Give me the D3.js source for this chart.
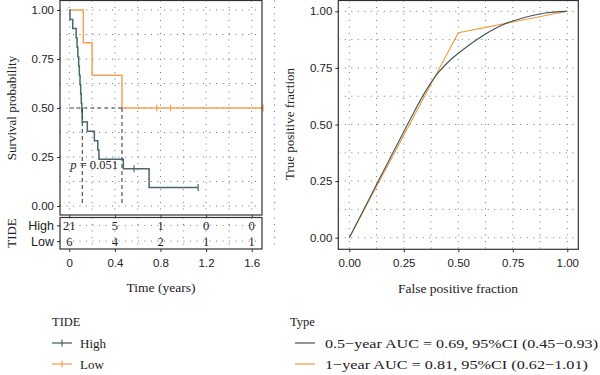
<!DOCTYPE html>
<html>
<head>
<meta charset="utf-8">
<script src="https://cdn.jsdelivr.net/npm/d3@7"></script>
<style>
  body { margin: 0; background: #fff; }
  svg { font-family: "Liberation Serif", "DejaVu Serif", serif; }
  .tick text { fill: #222; font-size: 11.5px; }
  .tick line { stroke: #333; }
</style>
</head>
<body>
<div id="chart"></div>
<script>
// ---- data ----
var kmTicks = [0, 0.4, 0.8, 1.2, 1.6];
var probTicks = [0, 0.25, 0.5, 0.75, 1];

// Kaplan-Meier steps: [time, survival after step]
var highSteps = [[0, 1], [0.006, 0.952], [0.03, 0.905], [0.06, 0.857], [0.068, 0.810], [0.075, 0.762],
  [0.082, 0.714], [0.088, 0.667], [0.094, 0.619], [0.1, 0.571], [0.105, 0.524], [0.11, 0.476],
  [0.114, 0.429], [0.158, 0.381], [0.22, 0.333], [0.25, 0.286], [0.26, 0.238], [0.474, 0.190],
  [0.70, 0.095], [1.13, 0.095]];
var highCensor = [0.568, 1.13];
var lowSteps = [[0, 1], [0.123, 0.833], [0.2, 0.667], [0.462, 0.5], [1.70, 0.5]];
var lowCensor = [0.767, 0.889, 1.70];
var medians = [0.114, 0.462];
var pText = "0.051";

var groups = ["High", "Low"];
var riskHigh = [21, 5, 1, 0, 0];
var riskLow = [6, 4, 2, 1, 1];

// ROC curves: [fpr, tpr]
var roc05 = [[0, 0], [0.05, 0.094], [0.1, 0.188], [0.15, 0.282], [0.2, 0.376], [0.25, 0.468], [0.3, 0.562],
  [0.35, 0.65], [0.4, 0.722], [0.45, 0.775], [0.5, 0.815], [0.55, 0.852], [0.6, 0.885], [0.65, 0.915],
  [0.7, 0.94], [0.75, 0.958], [0.8, 0.972], [0.85, 0.984], [0.9, 0.993], [0.95, 0.998], [1, 1]];
var roc1 = [[0, 0], [0.5, 0.905], [1, 1]];
var rocLabels = ["0.5\u2212year AUC = 0.69, 95%CI (0.45\u22120.93)", "1\u2212year AUC = 0.81, 95%CI (0.62\u22121.01)"];

var colHigh = "#4a6670", colLow = "#f4a254";
var colRoc05 = "#3e5660", colRoc1 = "#f29a3a";

var svg = d3.select("#chart").append("svg").attr("width", 600).attr("height", 375);

function grid(g, xs, ys, x0, x1, y0, y1) {
  g.selectAll(null).data(xs).enter().append("line")
    .attr("x1", d => d).attr("x2", d => d).attr("y1", y0).attr("y2", y1)
    .attr("stroke", "#777").attr("stroke-width", 1).attr("stroke-dasharray", "1,5.5");
  g.selectAll(null).data(ys).enter().append("line")
    .attr("y1", d => d).attr("y2", d => d).attr("x1", x0).attr("x2", x1)
    .attr("stroke", "#777").attr("stroke-width", 1).attr("stroke-dasharray", "1,5.5");
}

function styleAxis(g) {
  g.select(".domain").remove();
  g.selectAll(".tick line").attr("stroke", "#333");
}

// ---- KM panel ----
var x = d3.scaleLinear().domain([0, 1.6]).range([69.3, 251.7]);
var y = d3.scaleLinear().domain([0, 1]).range([206, 10]);
var box = {x0: 60, x1: 262, y0: 0.5, y1: 215};
var tbl = {y0: 217.5, y1: 249};
var yr = d3.scalePoint().domain(groups).range([tbl.y0, tbl.y1]).padding(0.5);

var km = svg.append("g");
grid(km, d3.range(0, 1.81, 0.2).map(x), d3.range(0, 1.01, 0.125).map(y), box.x0, box.x1, box.y0, box.y1);
grid(km, d3.range(0, 1.81, 0.2).map(x), [], box.x0, box.x1, tbl.y0, tbl.y1);
km.selectAll(null).data(groups).enter().append("line")
  .attr("x1", box.x0).attr("x2", box.x1).attr("y1", d => yr(d)).attr("y2", d => yr(d))
  .attr("stroke", "#777").attr("stroke-width", 1).attr("stroke-dasharray", "1,5.5");

var stepLine = d3.line().x(d => x(d[0])).y(d => y(d[1])).curve(d3.curveStepAfter);
km.append("path").datum(lowSteps).attr("d", stepLine)
  .attr("fill", "none").attr("stroke", colLow).attr("stroke-width", 1.5);
km.append("path").datum(highSteps).attr("d", stepLine)
  .attr("fill", "none").attr("stroke", colHigh).attr("stroke-width", 1.5);

function censor(times, steps, col) {
  km.selectAll(null).data(times).enter().append("line")
    .attr("x1", d => x(d)).attr("x2", d => x(d))
    .attr("y1", d => y(steps.filter(s => s[0] <= d).pop()[1]) - 3.5)
    .attr("y2", d => y(steps.filter(s => s[0] <= d).pop()[1]) + 3.5)
    .attr("stroke", col).attr("stroke-width", 1.2);
}
censor(lowCensor, lowSteps, colLow);
censor(highCensor, highSteps, colHigh);

// median dashed lines
km.append("line").attr("x1", x(0)).attr("x2", x(d3.max(medians))).attr("y1", y(0.5)).attr("y2", y(0.5))
  .attr("stroke", "#444").attr("stroke-width", 1.1).attr("stroke-dasharray", "4,3");
km.selectAll(null).data(medians).enter().append("line")
  .attr("x1", d => x(d)).attr("x2", d => x(d)).attr("y1", y(0.5)).attr("y2", y(0))
  .attr("stroke", "#444").attr("stroke-width", 1.1).attr("stroke-dasharray", "4,3");

var pt = km.append("text").attr("x", x(0) + 1).attr("y", y(0.21)).attr("dy", "0.35em")
  .attr("font-size", 12.5).attr("fill", "#222");
pt.append("tspan").attr("font-style", "italic").text("p");
pt.append("tspan").text(" = " + pText);

// boxes
km.append("rect").attr("x", box.x0).attr("y", box.y0).attr("width", box.x1 - box.x0).attr("height", box.y1 - box.y0)
  .attr("fill", "none").attr("stroke", "#333").attr("stroke-width", 1.2);
km.append("rect").attr("x", box.x0).attr("y", tbl.y0).attr("width", box.x1 - box.x0).attr("height", tbl.y1 - tbl.y0)
  .attr("fill", "none").attr("stroke", "#333").attr("stroke-width", 1.2);

// axes
km.append("g").attr("transform", "translate(" + box.x0 + ",0)")
  .call(d3.axisLeft(y).tickValues(probTicks).tickFormat(d3.format(".2f")).tickSize(3).tickPadding(3))
  .call(styleAxis);
km.append("g").attr("transform", "translate(0," + box.y1 + ")")
  .call(d3.axisBottom(x).tickValues(kmTicks).tickFormat("").tickSize(2.5))
  .call(styleAxis);
km.append("g").attr("transform", "translate(" + box.x0 + ",0)")
  .call(d3.axisLeft(yr).tickSize(3).tickPadding(3))
  .call(styleAxis)
  .selectAll("text").style("font-size", "12.5px");
km.append("g").attr("transform", "translate(0," + tbl.y1 + ")")
  .call(d3.axisBottom(x).tickValues(kmTicks).tickFormat(d3.format("")).tickSize(3).tickPadding(7))
  .call(styleAxis);

// risk table numbers
[[riskHigh, "High"], [riskLow, "Low"]].forEach(function(r) {
  km.selectAll(null).data(r[0]).enter().append("text")
    .attr("x", (d, i) => x(kmTicks[i])).attr("y", yr(r[1])).attr("dy", "0.35em")
    .attr("text-anchor", "middle").attr("font-size", 12.5).attr("fill", "#222")
    .text(d => d);
});

km.append("text").attr("transform", "translate(16,108) rotate(-90)").attr("text-anchor", "middle")
  .attr("font-size", 13).attr("fill", "#222").text("Survival probability");
km.append("text").attr("transform", "translate(16,233) rotate(-90)").attr("text-anchor", "middle")
  .attr("font-size", 13).attr("fill", "#222").text("TIDE");
km.append("text").attr("x", (box.x0 + box.x1) / 2).attr("y", 292).attr("text-anchor", "middle")
  .attr("font-size", 13.5).attr("fill", "#222").text("Time (years)");

// ---- ROC panel ----
var rx = d3.scaleLinear().domain([0, 1]).range([349.3, 567.3]);
var ry = d3.scaleLinear().domain([0, 1]).range([237.7, 11.3]);
var rbox = {x0: 338.3, x1: 578.3, y0: 0.5, y1: 249.3};
var roc = svg.append("g");
grid(roc, d3.range(0, 1.01, 0.125).map(rx), d3.range(0, 1.01, 0.125).map(ry), rbox.x0, rbox.x1, rbox.y0, rbox.y1);

var rocLine = d3.line().x(d => rx(d[0])).y(d => ry(d[1]));
roc.append("path").datum(roc1).attr("d", rocLine)
  .attr("fill", "none").attr("stroke", colRoc1).attr("stroke-width", 1.1);
roc.append("path").datum(roc05).attr("d", rocLine.curve(d3.curveBasis))
  .attr("fill", "none").attr("stroke", colRoc05).attr("stroke-width", 1.1);

roc.append("rect").attr("x", rbox.x0).attr("y", rbox.y0).attr("width", rbox.x1 - rbox.x0).attr("height", rbox.y1 - rbox.y0)
  .attr("fill", "none").attr("stroke", "#333").attr("stroke-width", 1.2);
roc.append("g").attr("transform", "translate(" + rbox.x0 + ",0)")
  .call(d3.axisLeft(ry).tickValues(probTicks).tickFormat(d3.format(".2f")).tickSize(3).tickPadding(3))
  .call(styleAxis);
roc.append("g").attr("transform", "translate(0," + rbox.y1 + ")")
  .call(d3.axisBottom(rx).tickValues(probTicks).tickFormat(d3.format(".2f")).tickSize(3).tickPadding(7))
  .call(styleAxis);
roc.append("text").attr("transform", "translate(294,124) rotate(-90)").attr("text-anchor", "middle")
  .attr("font-size", 13).attr("fill", "#222").text("True positive fraction");
roc.append("text").attr("x", 458).attr("y", 293).attr("text-anchor", "middle")
  .attr("font-size", 13.5).attr("fill", "#222").text("False positive fraction");

// ---- legends ----
var leg = svg.append("g").attr("font-size", 12.5).attr("fill", "#222");
leg.append("text").attr("x", 52).attr("y", 322).attr("dy", "0.35em").text("TIDE");
[["High", colHigh], ["Low", colLow]].forEach(function(d, i) {
  var yy = 343 + i * 21;
  leg.append("line").attr("x1", 52).attr("x2", 72).attr("y1", yy).attr("y2", yy).attr("stroke", d[1]).attr("stroke-width", 1.3);
  leg.append("line").attr("x1", 62).attr("x2", 62).attr("y1", yy - 3.5).attr("y2", yy + 3.5).attr("stroke", d[1]).attr("stroke-width", 1.2);
  leg.append("text").attr("x", 80).attr("y", yy).attr("dy", "0.35em").attr("font-size", 13).text(d[0]);
});
leg.append("text").attr("x", 290).attr("y", 322).attr("dy", "0.35em").text("Type");
[[rocLabels[0], colRoc05, 273], [rocLabels[1], colRoc1, 263]].forEach(function(d, i) {
  var yy = 343 + i * 21;
  leg.append("line").attr("x1", 295).attr("x2", 315).attr("y1", yy).attr("y2", yy).attr("stroke", d[1]).attr("stroke-width", 1.2);
  leg.append("text").attr("x", 325).attr("y", yy).attr("dy", "0.35em").attr("font-size", 13.5)
    .attr("textLength", d[2]).attr("lengthAdjust", "spacingAndGlyphs").text(d[0]);
});
</script>
</body>
</html>
